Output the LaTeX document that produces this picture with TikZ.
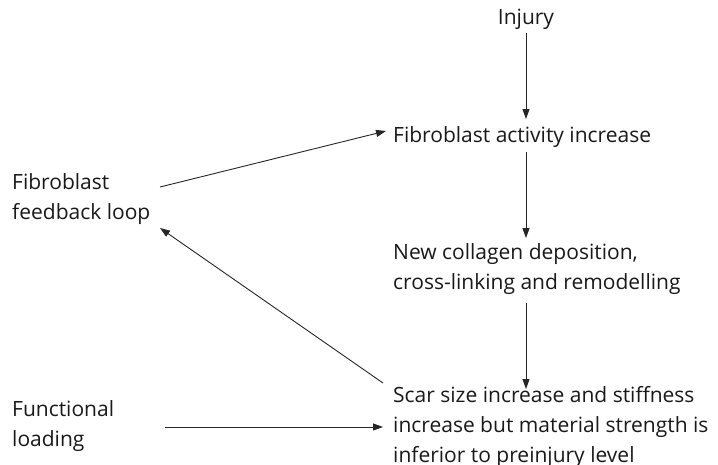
\documentclass[tikz,border=0pt]{standalone}
\usepackage{fontspec}
\setmainfont{Open Sans}
\usetikzlibrary{arrows.meta}
\begin{document}
\begin{tikzpicture}[x=1pt,y=-1pt,
  lbl/.style={anchor=west,align=left,inner sep=0pt,font=\fontsize{21}{30}\selectfont,text=black!90},
  arr/.style={-{Triangle[length=10pt,width=7pt]},line width=0.9pt,black!85}]
\useasboundingbox (0,0) rectangle (718,464);
\node[lbl,anchor=center] (inj) at (526,19) {Injury};
\node[lbl] (fai) at (393,137) {Fibroblast activity increase};
\node[lbl] (ncd) at (393,269) {New collagen deposition,\\cross-linking and remodelling};
\node[lbl] (scar) at (393,427) {Scar size increase and stiffness\\increase but material strength is\\inferior to preinjury level};
\node[lbl] (ffl) at (12,199) {Fibroblast\\feedback loop};
\node[lbl] (fl) at (12,426) {Functional\\loading};
\coordinate (a1s) at (526,33);
\coordinate (a1e) at (526,119);
\coordinate (a2s) at (526,152);
\coordinate (a2e) at (526,238);
\coordinate (a3s) at (526,303);
\coordinate (a3e) at (526,389);
\draw[arr] (a1s) -- (a1e);
\draw[arr] (a2s) -- (a2e);
\draw[arr] (a3s) -- (a3e);
\coordinate (fbs) at (160,187);
\coordinate (fbe) at (386,131);
\draw[arr] (fbs) -- (fbe);
\coordinate (dgs) at (383,383);
\coordinate (dge) at (160,228);
\draw[arr] (dgs) -- (dge);
\coordinate (fls) at (165,427);
\coordinate (fle) at (383,427);
\draw[arr] (fls) -- (fle);
\end{tikzpicture}
\end{document}
